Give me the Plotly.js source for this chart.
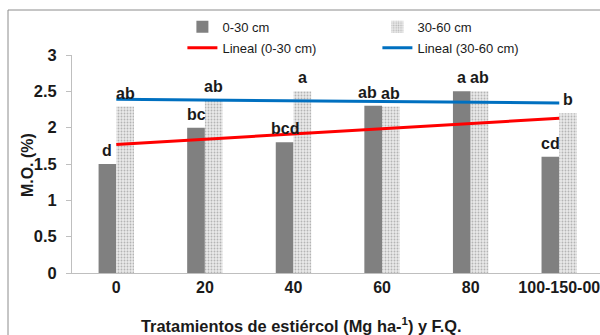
<!DOCTYPE html>
<html>
<head>
<meta charset="utf-8">
<script src="https://cdn.plot.ly/plotly-3.0.1.min.js"></script>
<style>html,body{margin:0;padding:0;background:#fff;}#chart{width:600px;height:335px;}</style>
</head>
<body>
<div id="chart"></div>
<script>
// ---- data ----
const categories = ['0', '20', '40', '60', '80', '100-150-00'];
const mo030 = [1.50, 2.00, 1.80, 2.30, 2.50, 1.60];
const mo3060 = [2.29, 2.38, 2.50, 2.29, 2.50, 2.20];
const letters030 = ['d', 'bc', 'bcd', 'ab', 'a', 'cd'];
const letters3060 = ['ab', 'ab', 'a', 'ab', 'ab', 'b'];
// linear trend lines (endpoints at first and last treatment)
const trendX = ['0', '100-150-00'];
const trend030 = [1.77, 2.13];
const trend3060 = [2.39, 2.34];

const FONT = '"Liberation Sans Narrow", "Arial Narrow", "Liberation Sans", Arial, sans-serif';
const TXT = '#1a1a1a';

const traces = [
  {type: 'bar', name: '0-30 cm', x: categories, y: mo030, legend: 'legend',
   marker: {color: '#808080'}, hoverinfo: 'skip'},
  {type: 'bar', name: '30-60 cm', x: categories, y: mo3060, legend: 'legend2',
   marker: {color: '#e2e2e2', pattern: {shape: '.', fgcolor: '#b4b4b4', bgcolor: '#eaeaea', size: 3, solidity: 0.3}},
   hoverinfo: 'skip'},
  {type: 'scatter', mode: 'lines', name: 'Lineal (0-30 cm)', x: trendX, y: trend030, legend: 'legend3',
   line: {color: '#ff0000', width: 3}, hoverinfo: 'skip'},
  {type: 'scatter', mode: 'lines', name: 'Lineal (30-60 cm)', x: trendX, y: trend3060, legend: 'legend4',
   line: {color: '#0070c0', width: 3}, hoverinfo: 'skip'}
];

const annotations = [];
categories.forEach((c, i) => {
  annotations.push({x: i - 0.1, y: mo030[i], xref: 'x', yref: 'y', text: letters030[i],
    showarrow: false, yanchor: 'bottom', yshift: 3, xshift: (i === 3 ? -6 : 0),
    font: {family: FONT, size: 16, color: TXT, weight: 'bold'}});
  annotations.push({x: i + 0.1, y: mo3060[i], xref: 'x', yref: 'y', text: letters3060[i],
    showarrow: false, yanchor: 'bottom', yshift: 3,
    font: {family: FONT, size: 16, color: TXT, weight: 'bold'}});
});
// axis titles
annotations.push({xref: 'paper', yref: 'paper', x: 0.434, y: -0.2385, xanchor: 'center', yanchor: 'middle',
  text: 'Tratamientos de estiércol (Mg ha-<sup>1</sup>) y F.Q.', showarrow: false,
  font: {family: FONT, size: 16.4, color: TXT, weight: 'bold'}});
annotations.push({xref: 'paper', yref: 'paper', x: -0.0852, y: 0.495, xanchor: 'center', yanchor: 'middle',
  text: 'M.O. (%)', textangle: -90, showarrow: false,
  font: {family: FONT, size: 16, color: TXT, weight: 'bold'}});

function legendAt(x, y) {
  return {orientation: 'h', xref: 'container', yref: 'container', x: x, y: y,
    xanchor: 'left', yanchor: 'top', itemwidth: 30,
    font: {family: FONT, size: 13, color: TXT}, bgcolor: 'rgba(0,0,0,0)'};
}

const layout = {
  width: 600, height: 335,
  margin: {l: 72, r: 0, t: 55, b: 62, pad: 0, autoexpand: false},
  paper_bgcolor: '#ffffff', plot_bgcolor: '#ffffff',
  font: {family: FONT, color: TXT},
  barmode: 'group', bargap: 0.6, bargroupgap: 0,
  showlegend: true,
  legend: legendAt(0.304, 0.965),
  legend2: legendAt(0.629, 0.965),
  legend3: legendAt(0.304, 0.9024),
  legend4: legendAt(0.629, 0.9024),
  xaxis: {type: 'category', range: [-0.5, 5.46], showgrid: false, zeroline: false,
    showline: true, linecolor: '#bfbfbf', linewidth: 1, ticks: '',
    tickfont: {family: FONT, size: 16, color: TXT, weight: 'bold'}, fixedrange: true},
  yaxis: {range: [0, 3], dtick: 0.5, showgrid: false, zeroline: false,
    showline: true, linecolor: '#bfbfbf', linewidth: 1, ticks: 'outside', ticklen: 5, tickcolor: '#bfbfbf',
    ticklabelstandoff: 6,
    tickfont: {family: FONT, size: 16.5, color: TXT, weight: 'bold'}, fixedrange: true},
  annotations: annotations,
  shapes: [
    {type: 'rect', xref: 'paper', yref: 'paper', x0: -0.1212, x1: 1.05, y0: -0.35, y1: 1.2064,
     line: {color: '#8c8c8c', width: 1}, fillcolor: 'rgba(0,0,0,0)', layer: 'below'}
  ]
};

Plotly.newPlot('chart', traces, layout, {displayModeBar: false, staticPlot: true});
</script>
</body>
</html>
